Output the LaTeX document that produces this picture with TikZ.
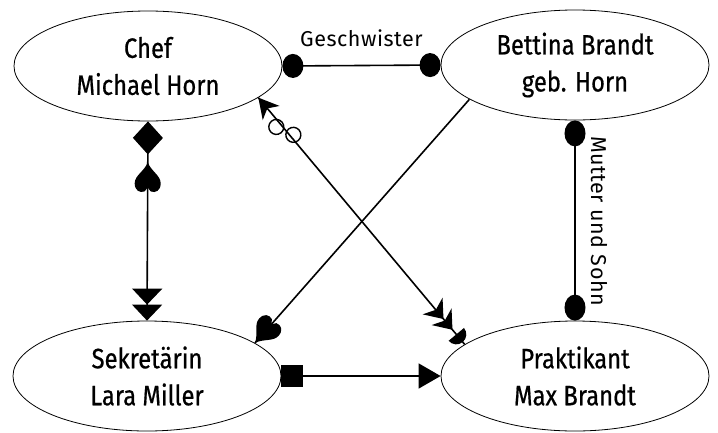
\documentclass[tikz,border=0pt]{standalone}
\usepackage{fontspec}
\setmainfont{Fira Sans}[FakeStretch=0.85,FakeBold=0.6]
\newfontfamily\lblfont{Fira Sans}[LetterSpace=2.5]
\usetikzlibrary{arrows.meta,shapes.geometric,decorations.markings}
\newcommand\heartR[1][]{\fill[#1] (0pt,0pt) .. controls (-9pt,3.5pt) and (-13pt,13pt) .. (-21pt,13pt)
      .. controls (-28pt,13pt) and (-31pt,8pt) .. (-29pt,3pt) -- (-25pt,0pt) -- (-29pt,-3pt)
      .. controls (-31pt,-8pt) and (-28pt,-13pt) .. (-21pt,-13pt)
      .. controls (-13pt,-13pt) and (-9pt,-3.5pt) .. (0pt,0pt) -- cycle;}
\newcommand\loopsR{\draw[line width=1.4pt] (-8pt,-5pt) circle[radius=7.5pt] (9pt,3pt) circle[radius=7.5pt];}
\newcommand\stealthR{\fill (0pt,0pt) -- (-17pt,13pt) -- (-12pt,0pt) -- (-17pt,-13pt) -- cycle;}
\newcommand\kiteR[1][]{\fill[#1] (0pt,0pt) -- (-20pt,11pt) -- (-14pt,0pt) -- (-20pt,-11pt) -- cycle;}
\newcommand\halfdiscR{\fill (-12pt,10pt) arc[start angle=90, end angle=-90, radius=10pt] -- cycle;}
\tikzset{
  person/.style={ellipse, draw, line width=0.8pt, minimum width=268pt, minimum height=110pt,
    inner sep=0pt, align=center, font=\fontsize{28}{37}\selectfont},
  rel/.style={line width=1.6pt},
  lbl/.style={font=\lblfont\fontsize{21.5}{25}\selectfont, inner sep=0pt},
}
\begin{document}
\begin{tikzpicture}[x=1pt,y=-1pt]
\useasboundingbox (0,0) rectangle (718,432);
\node[person] (chef) at (148,66) {Chef\\Michael Horn};
\node[person] (bettina) at (575,65) {Bettina Brandt\\geb. Horn};
\node[person] (sekr) at (147,376) {Sekretärin\\Lara Miller};
\node[person] (prakt) at (575,376) {Praktikant\\Max Brandt};

% Geschwister
\draw[rel, {Circle[length=21pt,width=24pt]}-{Circle[length=21pt,width=24pt]}]
  (chef.east) -- node[lbl, midway, above=18pt] (gesch) {Geschwister} (bettina.west);

% Mutter und Sohn
\draw[rel, {Circle[length=26pt,width=21pt]}-{Circle[length=26pt,width=21pt]}]
  (bettina.south) -- (prakt.north);
\node[lbl, rotate=-90, anchor=base] (mus) at (591,221) {Mutter und Sohn};

% Chef -- Sekretaerin
\draw[rel, {Diamond[length=33pt,width=30pt]}-{Triangle[length=16pt,width=30pt,sep=0pt]Triangle[length=16pt,width=30pt,sep=0pt]},
  postaction={decorate, decoration={markings, mark=at position 41pt with {\heartR[rotate=180]}}}]
  (chef.south) -- (sekr.north);

% Bettina -> Sekretaerin
\draw[rel, postaction={decorate, decoration={markings, mark=at position 0.9999 with {\heartR}}}]
  (bettina.198.6) -- (sekr.17);

% Chef -- Praktikant
\draw[rel, postaction={decorate, decoration={markings,
    mark=at position 0.0001 with {\kiteR[rotate=180]},
    mark=at position 42pt with {\loopsR},
    mark=at position -33pt with {\stealthR},
    mark=at position -19pt with {\stealthR},
    mark=at position -1pt with {\halfdiscR}}}]
  (chef.-16.6) -- (prakt.164.9);

% Sekretaerin -> Praktikant
\draw[rel, {Square[length=22pt,width=22pt]}-{Triangle[length=22pt,width=25pt]}]
  (sekr.east) -- (prakt.west);
\end{tikzpicture}
\end{document}
